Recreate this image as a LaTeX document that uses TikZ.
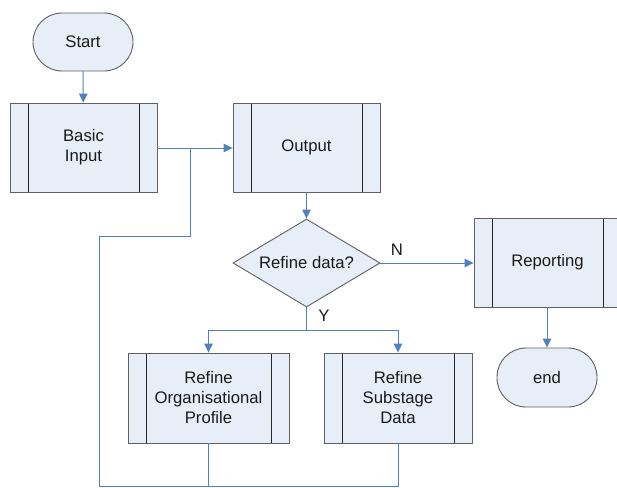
\documentclass[tikz,border=0pt]{standalone}
\usepackage{fontspec}
\setmainfont{Liberation Sans}
\usetikzlibrary{shapes.geometric,arrows.meta}
\definecolor{boxc}{HTML}{E8EEF8}
\definecolor{bordc}{HTML}{606060}
\definecolor{linec}{HTML}{4F81BD}
\definecolor{txtc}{HTML}{1A1A1A}
\tikzset{
  base/.style={draw=bordc, fill=boxc, line width=0.9pt, inner sep=0pt, align=center,
    text=txtc, font=\fontsize{16.7}{20}\selectfont},
  proc/.style={base, rectangle, minimum width=#1, minimum height=89pt,
    path picture={
      \draw[line width=0.9pt, draw=black!85]
        ([xshift=18pt]path picture bounding box.north west) -- ([xshift=18pt]path picture bounding box.south west)
        ([xshift=-18pt]path picture bounding box.north east) -- ([xshift=-18pt]path picture bounding box.south east);}},
  proc/.default=147pt,
  term/.style={base, rectangle, rounded corners=29pt, minimum width=100pt, minimum height=58pt},
  decision/.style={base, diamond, minimum width=147pt, minimum height=88pt, aspect=1.67},
  conn/.style={draw=linec, line width=1pt},
  arr/.style={conn, -{Triangle[length=9pt,width=8.5pt]}},
  lbl/.style={text=txtc, font=\fontsize{16.7}{20}\selectfont, inner sep=0pt}
}
\begin{document}
\begin{tikzpicture}[x=1pt, y=-1pt]
\clip (0,0) rectangle (617,487);
\fill[white] (0,0) rectangle (617,487);
\node[term] (start) at (83,42) {Start};
\node[proc] (basic) at (83.5,147.5) {Basic\\Input};
\node[proc] (output) at (306.5,147.5) {Output};
\node[decision] (dia) at (306.5,263) {Refine data?};
\node[proc] (rep) at (547.5,262.5) {Reporting};
\node[term, minimum height=59pt] (end) at (547,377.5) {end};
\node[proc=161pt, minimum height=90pt] (org) at (208.5,398) {Refine\\Organisational\\Profile};
\node[proc=148pt, minimum height=90pt] (sub) at (398,398) {Refine\\Substage\\Data};
\node[lbl] (n) at (397,250) {N};
\node[lbl] (y) at (324,316) {Y};
\coordinate (split) at (306.5,330);
\coordinate (fbl) at (99,486);
\coordinate (fbm) at (190,236);
\coordinate (join) at (190,148);
\draw[arr] (start) -- (basic);
\draw[arr] (basic.east |- join) -- (output.west |- join);
\draw[conn] (sub.south) |- (fbl) |- (fbm) -- (join);
\draw[conn] (org.south) -- (org.south |- fbl);
\draw[arr] (output) -- (dia);
\draw[arr] (dia.east) -- (rep.west |- dia.east);
\draw[conn] (dia.south) -- (split);
\draw[arr] (split) -| (org.north);
\draw[arr] (split) -| (sub.north);
\draw[arr] (rep.south -| end.north) -- (end.north);
\end{tikzpicture}
\end{document}
